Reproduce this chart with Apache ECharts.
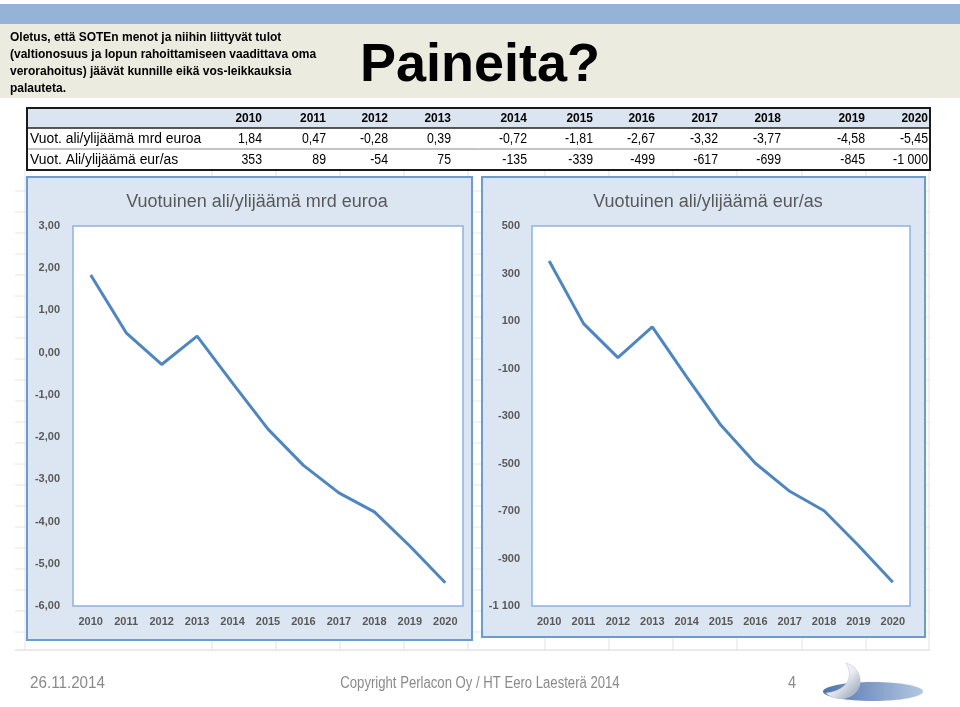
<!DOCTYPE html>
<html>
<head>
<meta charset="utf-8">
<script src="https://cdn.jsdelivr.net/npm/echarts@6/dist/echarts.min.js"></script>
<style>html,body{margin:0;padding:0;background:#fff}#c{width:960px;height:707px}</style>
</head>
<body>
<div id="c"></div>
<script>
// ---- data ----
const years = ['2010','2011','2012','2013','2014','2015','2016','2017','2018','2019','2020'];
const mrdEuroa = [1.84, 0.47, -0.28, 0.39, -0.72, -1.81, -2.67, -3.32, -3.77, -4.58, -5.45];
const eurAs = [353, 89, -54, 75, -135, -339, -499, -617, -699, -845, -1000];
const rowLabels = ['Vuot. ali/ylijäämä mrd euroa', 'Vuot. Ali/ylijäämä eur/as'];
const chartTitles = ['Vuotuinen ali/ylijäämä mrd euroa', 'Vuotuinen ali/ylijäämä eur/as'];
const introLines = ['Oletus, että SOTEn menot ja niihin liittyvät tulot',
  '(valtionosuus ja lopun rahoittamiseen vaadittava oma',
  'verorahoitus) jäävät kunnille eikä vos-leikkauksia',
  'palauteta.'];
const slideTitle = 'Paineita?';
const footerDate = '26.11.2014';
const footerCopy = 'Copyright Perlacon Oy / HT Eero Laesterä 2014';
const pageNo = '4';

// ---- formatting ----
function fmt1(v){ return v.toFixed(2).replace('.', ','); }
function fmt2(v){
  const s = Math.abs(Math.round(v)).toString().replace(/\B(?=(\d{3})+(?!\d))/g, ' ');
  return (v < 0 ? '-' : '') + s;
}

// ---- layout ----
const colRight = [262, 326, 388, 451, 527, 593, 655, 718, 781, 865, 928];
const SANS = '"Liberation Sans", Arial, sans-serif';

function txt(t, x, y, font, fill, align, sx) {
  return {type:'text', z:5, x:x, y:y, scaleX: sx || 1,
    style:{text:t, x:0, y:0, fill:fill, font:font,
      align:align, verticalAlign:'middle', textAlign:align, textVerticalAlign:'middle'}};
}
// sample a cubic bezier chain into polygon points (logo shape only)
function bez(p0, segs) {
  const pts = [p0];
  let cur = p0;
  segs.forEach(s => {
    for (let k = 1; k <= 12; k++) {
      const t = k / 12, u = 1 - t;
      pts.push([
        u*u*u*cur[0] + 3*u*u*t*s[0][0] + 3*u*t*t*s[1][0] + t*t*t*s[2][0],
        u*u*u*cur[1] + 3*u*u*t*s[0][1] + 3*u*t*t*s[1][1] + t*t*t*s[2][1]
      ]);
    }
    cur = s[2];
  });
  return pts;
}

const g = [];
// background spreadsheet grid
[25, 212, 276, 340, 404, 468, 545, 609, 673, 737, 802, 866, 929].forEach(x => {
  g.push({type:'line', z:-20, shape:{x1:x, y1:170, x2:x, y2:650}, style:{stroke:'#e3e3e3', lineWidth:1}});
});
for (let y = 191; y <= 650; y += 21) {
  g.push({type:'line', z:-20, shape:{x1:15, y1:y, x2:930, y2:y}, style:{stroke:'#e6e6e6', lineWidth:1}});
}
g.push({type:'line', z:-20, shape:{x1:15, y1:650, x2:930, y2:650}, style:{stroke:'#d6d6d6', lineWidth:1}});

// header bands
g.push({type:'rect', z:-30, shape:{x:0, y:4, width:960, height:20}, style:{fill:'#94b3d7'}});
g.push({type:'rect', z:-30, shape:{x:0, y:24, width:960, height:74}, style:{fill:'#ecebe0'}});
introLines.forEach((t, i) => {
  g.push(txt(t, 10, 38 + i*17, 'bold 12px ' + SANS, '#000', 'left'));
});
g.push(txt(slideTitle, 480, 66, 'bold 54px ' + SANS, '#000', 'center'));

// table
g.push({type:'rect', z:-2, shape:{x:27, y:108, width:903, height:62}, style:{fill:'#fff'}});
g.push({type:'rect', z:-1, shape:{x:27, y:108, width:903, height:20}, style:{fill:'#dbe5f1'}});
g.push({type:'line', z:3, shape:{x1:27, y1:128, x2:930, y2:128}, style:{stroke:'#222', lineWidth:1.5}});
g.push({type:'line', z:3, shape:{x1:27, y1:149, x2:930, y2:149}, style:{stroke:'#888', lineWidth:1}});
g.push({type:'rect', z:4, shape:{x:27, y:108, width:903, height:62}, style:{fill:'none', stroke:'#1a1a1a', lineWidth:2}});
years.forEach((y, i) => {
  g.push(txt(y, colRight[i], 118, 'bold 13px ' + SANS, '#000', 'right', 0.92));
  g.push(txt(fmt1(mrdEuroa[i]), colRight[i], 139, '14px ' + SANS, '#000', 'right', 0.88));
  g.push(txt(fmt2(eurAs[i]), colRight[i], 160, '14px ' + SANS, '#000', 'right', 0.88));
});
rowLabels.forEach((t, i) => {
  g.push(txt(t, 30, 139 + i*21, '14px ' + SANS, '#000', 'left', 0.99));
});

// chart frames
g.push({type:'rect', z:-5, shape:{x:27, y:177, width:445, height:463}, style:{fill:'#dce6f2', stroke:'#6c9bd2', lineWidth:2}});
g.push({type:'rect', z:-5, shape:{x:482, y:177, width:443, height:460}, style:{fill:'#dce6f2', stroke:'#6c9bd2', lineWidth:2}});

// footer
g.push(txt(footerDate, 30, 684, '16px ' + SANS, '#8a8a8a', 'left', 0.95));
g.push(txt(footerCopy, 480, 684, '16px ' + SANS, '#8a8a8a', 'center', 0.82));
g.push(txt(pageNo, 792, 684, '16px ' + SANS, '#8a8a8a', 'center', 0.9));
// logo
g.push({type:'ellipse', z:5, shape:{cx:873, cy:691.5, rx:50, ry:9.5},
  style:{fill:{type:'linear', x:0, y:0, x2:1, y2:0, colorStops:[{offset:0, color:'#4f74ad'}, {offset:1, color:'#b3c7e2'}]}}});
g.push({type:'polygon', z:6, shape:{points: bez([846, 663], [
    [[864, 668], [866, 692], [846, 698]],
    [[838, 700], [830, 697], [826, 693]],
    [[842, 692], [856, 680], [846, 663]]
  ])},
  style:{stroke:'#c3c9d4', lineWidth:0.6,
    fill:{type:'linear', x:0.2, y:0, x2:1, y2:0.8, colorStops:[{offset:0, color:'#ffffff'}, {offset:0.5, color:'#e9ecf2'}, {offset:1, color:'#9ea8bb'}]}}});

const option = {
  animation: false,
  backgroundColor: '#ffffff',
  title: [
    {text: chartTitles[0], left: 252, top: 188, textAlign: 'center',
     textStyle: {color:'#595959', fontSize:18, fontWeight:'normal', fontFamily:SANS}},
    {text: chartTitles[1], left: 703, top: 188, textAlign: 'center',
     textStyle: {color:'#595959', fontSize:18, fontWeight:'normal', fontFamily:SANS}}
  ],
  graphic: {elements: g},
  grid: [
    {left:73, top:226, width:390, height:380, show:true, backgroundColor:'#fff', borderColor:'#8db3e2', borderWidth:1.5, z:1},
    {left:532, top:226, width:378, height:380, show:true, backgroundColor:'#fff', borderColor:'#8db3e2', borderWidth:1.5, z:1}
  ],
  xAxis: [
    {type:'category', gridIndex:0, data:years, boundaryGap:true,
     axisLine:{show:false}, axisTick:{show:false},
     axisLabel:{margin:10, interval:0, fontSize:11, fontWeight:'bold', color:'#595959', fontFamily:SANS}},
    {type:'category', gridIndex:1, data:years, boundaryGap:true,
     axisLine:{show:false}, axisTick:{show:false},
     axisLabel:{margin:10, interval:0, fontSize:11, fontWeight:'bold', color:'#595959', fontFamily:SANS}}
  ],
  yAxis: [
    {type:'value', gridIndex:0, min:-6, max:3, interval:1,
     axisLine:{show:false}, axisTick:{show:false},
     splitLine:{lineStyle:{color:'#d9d9d9', width:1}},
     axisLabel:{margin:13, formatter:v => fmt1(v), fontSize:11, fontWeight:'bold', color:'#595959', fontFamily:SANS}},
    {type:'value', gridIndex:1, min:-1100, max:500, interval:200,
     axisLine:{show:false}, axisTick:{show:false},
     splitLine:{lineStyle:{color:'#d9d9d9', width:1}},
     axisLabel:{margin:12, formatter:v => fmt2(v), fontSize:11, fontWeight:'bold', color:'#595959', fontFamily:SANS}}
  ],
  series: [
    {type:'line', xAxisIndex:0, yAxisIndex:0, data:mrdEuroa, symbol:'none', z:3,
     lineStyle:{color:'#4f86c0', width:3}},
    {type:'line', xAxisIndex:1, yAxisIndex:1, data:eurAs, symbol:'none', z:3,
     lineStyle:{color:'#4f86c0', width:3}}
  ]
};
const chart = echarts.init(document.getElementById('c'), null, {renderer:'canvas'});
chart.setOption(option);
</script>
</body>
</html>
